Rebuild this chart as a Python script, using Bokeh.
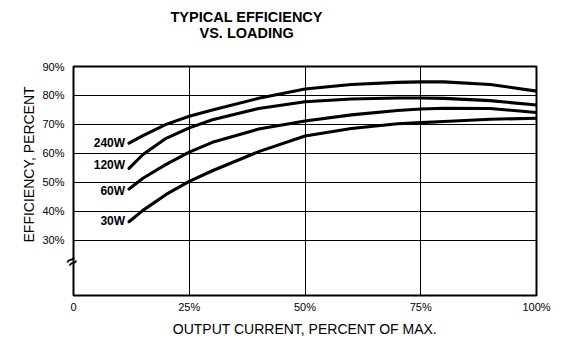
import math
from bokeh.plotting import figure
from bokeh.models import Title, FixedTicker, ColumnDataSource, LinearAxis
from bokeh.core.properties import value
from bokeh.embed import file_html
from bokeh.resources import INLINE

# ---- data ----
load_pct = [12, 15, 20, 25, 30, 40, 50, 60, 70, 75, 80, 90, 100]
eff_240w = [63.5, 66.1, 70.0, 72.8, 75.0, 79.0, 82.2, 83.8, 84.5, 84.7, 84.7, 83.8, 81.5]
eff_120w = [54.8, 59.6, 65.2, 68.8, 71.6, 75.5, 77.8, 78.8, 79.1, 79.1, 79.0, 78.2, 76.7]
eff_60w = [47.7, 51.4, 56.2, 60.4, 63.8, 68.4, 71.2, 73.3, 74.8, 75.3, 75.6, 75.5, 74.1]
eff_30w = [36.4, 40.3, 45.8, 50.3, 54.0, 60.6, 66.0, 68.6, 70.2, 70.6, 71.0, 71.8, 72.1]
series_names = ["240W", "120W", "60W", "30W"]
label_dy = [0.0, 1.3, -0.8, 0.4]

x_ticks = [0, 25, 50, 75, 100]
x_tick_labels = ["0", "25%", "50%", "75%", "100%"]
y_ticks = [30, 40, 50, 60, 70, 80, 90]
y_tick_labels = ["30%", "40%", "50%", "60%", "70%", "80%", "90%"]
y_break = 23.5

title_lines = ["TYPICAL EFFICIENCY", "VS. LOADING"]
x_title = "OUTPUT CURRENT, PERCENT OF MAX."
y_title = "EFFICIENCY, PERCENT"

# ---- layout ----
W, H = 576, 353
FL, FR, FT, FB = 73, 536, 66, 295
Y_MIN, Y_MAX = 10.9, 90
X_MIN, X_MAX = 0, 100
FONT = "Liberation Sans"

p = figure(width=W, height=H, x_range=(X_MIN, X_MAX), y_range=(Y_MIN, Y_MAX),
           output_backend="svg", toolbar_location=None,
           min_border_left=FL, min_border_right=W - FR,
           min_border_top=FT, min_border_bottom=H - FB)
p.background_fill_color = "white"
p.border_fill_color = "white"
p.outline_line_color = "black"
p.outline_line_width = 2


def plain_axis(ax):
    ax.axis_line_color = None
    ax.major_tick_line_color = None
    ax.minor_tick_line_color = None
    ax.major_tick_out = 0
    ax.major_tick_in = 0
    ax.minor_tick_out = 0
    ax.minor_tick_in = 0
    ax.major_label_text_font = FONT
    ax.major_label_text_font_size = "11px"
    ax.major_label_text_color = "black"


plain_axis(p.xaxis[0])
plain_axis(p.yaxis[0])

p.xaxis.ticker = FixedTicker(ticks=x_ticks)
p.xaxis.major_label_overrides = dict(zip(x_ticks, x_tick_labels))
p.xaxis.major_label_standoff = 5
p.xaxis.axis_label = x_title
p.xaxis.axis_label_text_font = FONT
p.xaxis.axis_label_text_font_style = "normal"
p.xaxis.axis_label_text_font_size = "14px"
p.xaxis.axis_label_text_color = "black"
p.xaxis.axis_label_standoff = 5

p.yaxis.ticker = FixedTicker(ticks=y_ticks)
p.yaxis.major_label_overrides = dict(zip(y_ticks, y_tick_labels))
p.yaxis.major_label_standoff = -10

# axis break mark drawn as a tick label of an extra axis on the frame line
brk = LinearAxis(ticker=FixedTicker(ticks=[y_break]),
                 major_label_overrides={y_break: "\u2248"})
plain_axis(brk)
brk.major_label_standoff = -2
brk.major_label_orientation = 0.6
brk.major_label_text_font_size = "17px"
brk.major_label_text_font_style = "bold"
p.left = [brk] + list(p.left)

# invisible spacer between frame and title lines (hidden tick, no label)
spacer = LinearAxis(ticker=FixedTicker(ticks=[50]))
plain_axis(spacer)
spacer.major_tick_out = 24
spacer.major_label_standoff = 0
spacer.major_label_text_color = None
p.above = [spacer]

p.xgrid.ticker = FixedTicker(ticks=x_ticks[1:-1])
p.ygrid.ticker = FixedTicker(ticks=y_ticks[:-1])
for g in (p.xgrid[0], p.ygrid[0]):
    g.grid_line_color = "black"
    g.grid_line_width = 1
    g.grid_line_alpha = 1.0

# curves
all_series = [eff_240w, eff_120w, eff_60w, eff_30w]
for name, ys, ddy in zip(series_names, all_series, label_dy):
    p.line(load_pct, ys, line_color="black", line_width=3.1, line_cap="round", line_join="round")
    src = ColumnDataSource(dict(x=[load_pct[0]], y=[ys[0] + ddy], t=[name]))
    p.text(x="x", y="y", text="t", source=src, text_align="right", text_baseline="middle",
           x_offset=-4, text_font=value(FONT), text_font_style="bold",
           text_font_size="12px", text_color="black")

# titles (first added sits nearest the frame)
p.add_layout(Title(text=title_lines[1], align="left", offset=126, text_font=FONT,
                   text_font_style="bold", text_font_size="14.5px", text_color="black",
                   standoff=0, vertical_align="top"), "above")
p.add_layout(Title(text=title_lines[0], align="left", offset=97, text_font=FONT,
                   text_font_style="bold", text_font_size="14.5px", text_color="black",
                   standoff=0, vertical_align="bottom"), "above")
p.add_layout(Title(text=y_title, align="left", offset=53, text_font=FONT,
                   text_font_style="normal", text_font_size="14px", text_color="black",
                   standoff=6), "left")

open("out.html", "w").write(file_html(p, INLINE))
